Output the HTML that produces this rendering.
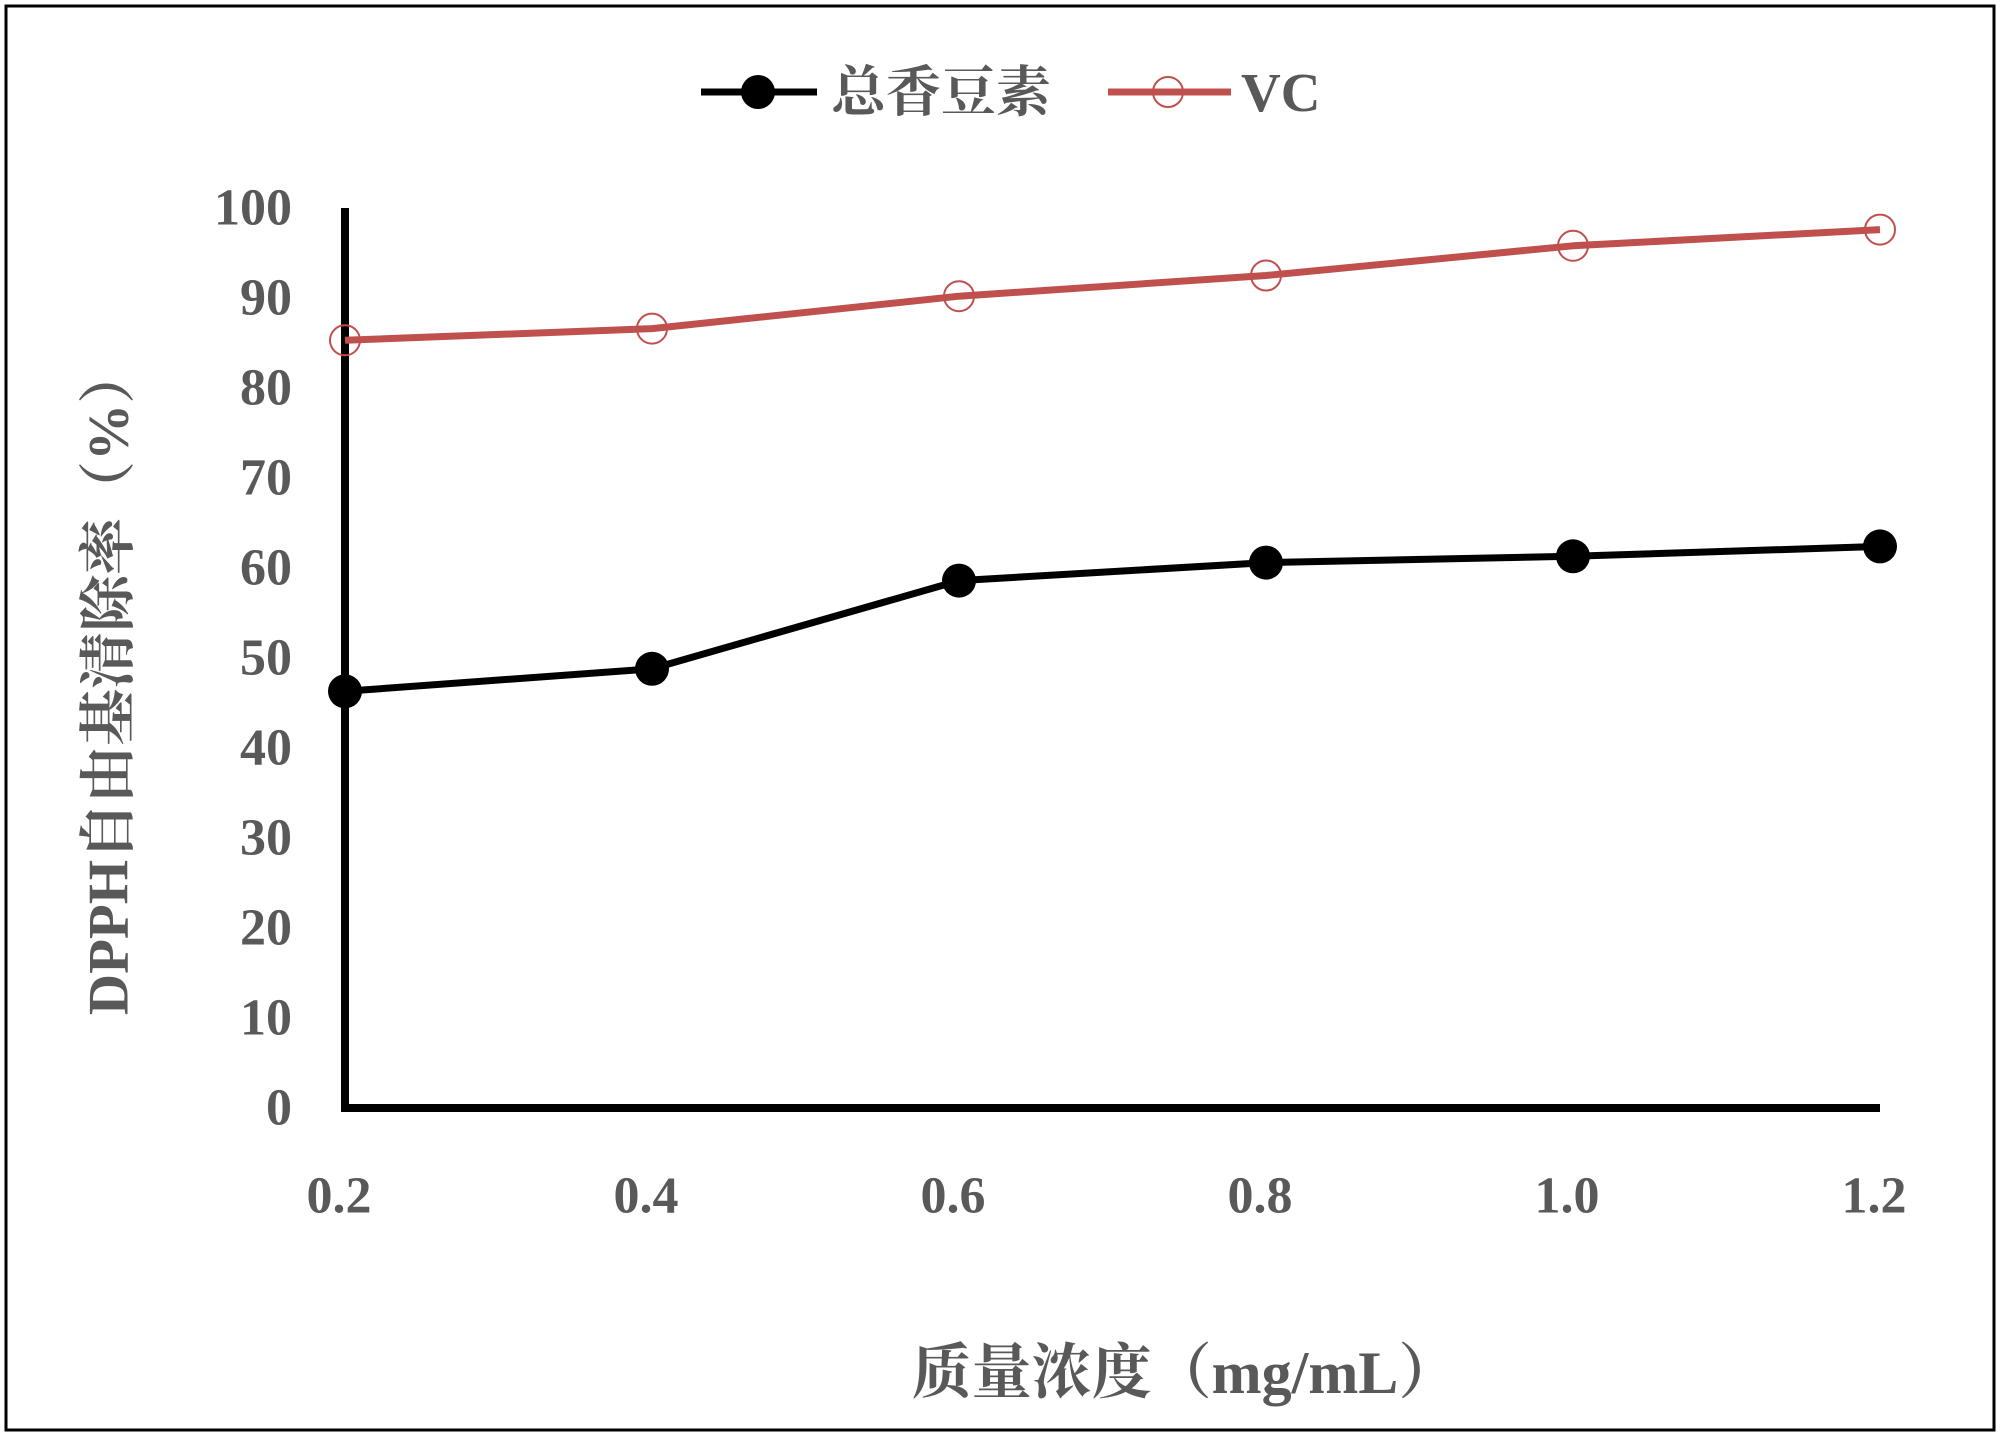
<!DOCTYPE html>
<html><head><meta charset="utf-8"><style>
html,body{margin:0;padding:0;background:#fff;}
svg{display:block;}
text{font-family:"Liberation Serif","Noto Serif CJK SC",serif;font-weight:bold;fill:#595959;}
</style></head><body>
<svg id="chart" width="2000" height="1438" viewBox="0 0 2000 1438">
<rect x="6" y="6" width="1988" height="1424" fill="#fff" stroke="#000" stroke-width="3"/>
<g id="legend">
 <g>
  <line x1="701" y1="92" x2="817" y2="92" stroke="#000" stroke-width="7"/>
  <circle cx="758" cy="92" r="17" fill="#000"/>
  <text x="831" y="111" font-size="55">总香豆素</text>
 </g>
 <g>
  <line x1="1108" y1="92" x2="1231" y2="92" stroke="#C0504D" stroke-width="7"/>
  <circle cx="1168" cy="92" r="15" fill="none" stroke="#C0504D" stroke-width="2"/>
  <text x="1241" y="111" font-size="55">VC</text>
 </g>
</g>
<g id="yticks"></g>
<g id="xticks"></g>
<g id="series"></g>
<text x="109" y="681" font-size="57" text-anchor="middle" dominant-baseline="central" transform="rotate(-90 109 681)">DPPH自由基清除率（%）</text>
<text x="1185" y="1393" font-size="60" text-anchor="middle">质量浓度（mg/mL）</text>
</svg>
<script>
const categories = [0.2, 0.4, 0.6, 0.8, 1.0, 1.2];
const xLabels = ["0.2","0.4","0.6","0.8","1.0","1.2"];
const coumarin = [46.3, 48.8, 58.6, 60.6, 61.3, 62.4];
const vc = [85.3, 86.6, 90.2, 92.5, 95.8, 97.6];
const yTicks = [0,10,20,30,40,50,60,70,80,90,100];

const NS = "http://www.w3.org/2000/svg";
const X0 = 345, X1 = 1880, Y0 = 1108, Y1 = 208;
function xs(v){ return X0 + (v - categories[0]) / (categories[categories.length-1] - categories[0]) * (X1 - X0); }
function ys(v){ return Y0 - v / 100 * (Y0 - Y1); }
function mk(tag, attrs, parent){ const e = document.createElementNS(NS, tag); for (const k in attrs) e.setAttribute(k, attrs[k]); parent.appendChild(e); return e; }

const yt = document.getElementById('yticks');
yTicks.forEach(v => {
  const t = mk('text', {x: 292, y: ys(v), 'font-size': 52, 'text-anchor': 'end', 'dominant-baseline': 'central'}, yt);
  t.textContent = v;
  
  
});
const xt = document.getElementById('xticks');
categories.forEach((c, i) => {
  const t = mk('text', {x: xs(c) - 6, y: 1196, 'font-size': 52, 'text-anchor': 'middle', 'dominant-baseline': 'central'}, xt);
  t.textContent = xLabels[i];
  
  
});
const sg = document.getElementById('series');
const ya = mk('line', {x1: X0, y1: Y1, x2: X0, y2: Y0 + 4, stroke: '#000', 'stroke-width': 8}, sg);


const xa = mk('line', {x1: X0 - 4, y1: Y0, x2: X1, y2: Y0, stroke: '#000', 'stroke-width': 8}, sg);



function drawSeries(vals, color, filled, name){
  const pts = vals.map((v, i) => xs(categories[i]) + ',' + ys(v)).join(' ');
  const pl = mk('polyline', {points: pts, fill: 'none', stroke: color, 'stroke-width': 7, 'stroke-linejoin': 'round'}, sg);
  
  
  vals.forEach((v, i) => {
    const c = mk('circle', filled
      ? {cx: xs(categories[i]), cy: ys(v), r: 17, fill: color}
      : {cx: xs(categories[i]), cy: ys(v), r: 15, fill: 'none', stroke: color, 'stroke-width': 2}, sg);
    
    
  });
}
drawSeries(vc, '#C0504D', false, 'vc');
drawSeries(coumarin, '#000', true, 'coumarin');
</script>
</body></html>
